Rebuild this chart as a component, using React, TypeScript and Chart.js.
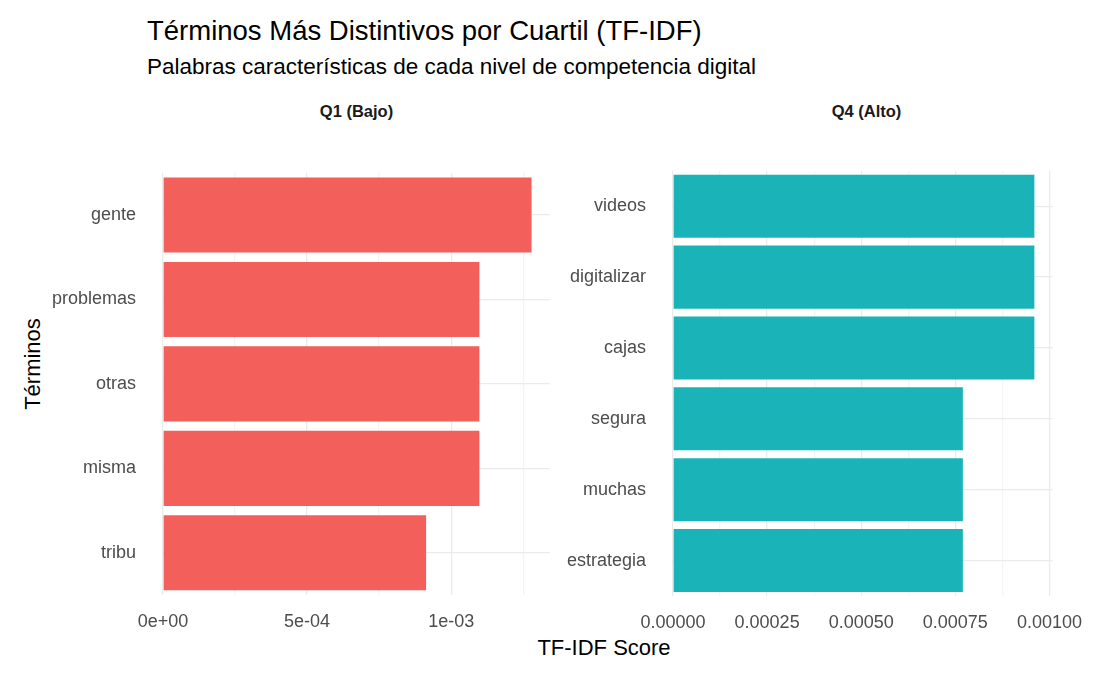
import React, { useEffect, useRef } from 'react';
import { Chart, registerables } from 'chart.js';

Chart.register(...registerables);

const q1Terms = ['gente', 'problemas', 'otras', 'misma', 'tribu'];
const q1Scores = [0.001279, 0.001098, 0.001098, 0.001098, 0.000913];
const q1Ticks = ['0e+00', '5e-04', '1e-03'];

const q4Terms = ['videos', 'digitalizar', 'cajas', 'segura', 'muchas', 'estrategia'];
const q4Scores = [0.00096, 0.00096, 0.00096, 0.00077, 0.00077, 0.00077];
const q4Ticks = ['0.00000', '0.00025', '0.00050', '0.00075', '0.00100'];

const FONT = '"Liberation Sans", Arial, sans-serif';

interface PanelProps {
  terms: string[];
  scores: number[];
  tickLabels: string[];
  majorStep: number;
  max: number;
  color: string;
  yWidth: number;
  style: React.CSSProperties;
}

const Panel: React.FC<PanelProps> = ({ terms, scores, tickLabels, majorStep, max, color, yWidth, style }) => {
  const canvasRef = useRef<HTMLCanvasElement>(null);

  useEffect(() => {
    if (!canvasRef.current) return;
    const chart = new Chart(canvasRef.current, {
      type: 'bar',
      data: {
        labels: terms,
        datasets: [{ data: scores, backgroundColor: color, barPercentage: 0.89, categoryPercentage: 1 }]
      },
      options: {
        indexAxis: 'y',
        responsive: false,
        animation: false,
        layout: { padding: { top: 0, right: 4, bottom: 0, left: 0 } },
        plugins: { legend: { display: false }, tooltip: { enabled: false } },
        scales: {
          x: {
            min: 0,
            max,
            border: { display: false },
            grid: {
              color: (c: any) => {
                const v = c.tick ? c.tick.value : 0;
                const r = Math.abs(v / majorStep - Math.round(v / majorStep));
                return r < 1e-6 ? '#EBEBEB' : '#F4F4F4';
              },
              lineWidth: 1.3,
              drawTicks: false
            },
            afterBuildTicks: (axis: any) => {
              const ticks = [];
              for (let v = 0; v <= max + 1e-12; v += majorStep / 2) ticks.push({ value: v });
              axis.ticks = ticks;
            },
            afterFit: (axis: any) => { axis.height = 50; },
            ticks: {
              autoSkip: false,
              maxRotation: 0,
              padding: 16,
              color: '#4D4D4D',
              font: { family: FONT, size: 18 },
              callback: (v: any) => {
                const i = Math.round(Number(v) / majorStep);
                const r = Math.abs(Number(v) / majorStep - i);
                return r < 1e-6 ? tickLabels[i] ?? '' : '';
              }
            }
          },
          y: {
            border: { display: false },
            grid: { color: '#EBEBEB', lineWidth: 1.3, offset: false, drawTicks: false },
            afterFit: (axis: any) => { axis.width = yWidth; },
            ticks: { padding: 27, color: '#4D4D4D', font: { family: FONT, size: 18 } }
          }
        }
      }
    });
    return () => chart.destroy();
  }, []);

  return <canvas ref={canvasRef} width={style.width as number} height={style.height as number} style={{ position: 'absolute', ...style }} />;
};

const text = (s: React.CSSProperties): React.CSSProperties => ({ position: 'absolute', fontFamily: FONT, color: '#000', whiteSpace: 'nowrap', ...s });

export default function App() {
  return (
    <div style={{ position: 'fixed', left: 0, top: 0, width: 1102, height: 680, background: '#fff' }}>
      <div style={text({ left: 147, top: 15, fontSize: 27.5 })}>Términos Más Distintivos por Cuartil (TF-IDF)</div>
      <div style={text({ left: 147, top: 54, fontSize: 22.5 })}>Palabras características de cada nivel de competencia digital</div>
      <div style={text({ left: 163, width: 387, top: 102, fontSize: 16.5, fontWeight: 'bold', textAlign: 'center', color: '#1A1A1A' })}>Q1 (Bajo)</div>
      <div style={text({ left: 673, width: 387, top: 102, fontSize: 16.5, fontWeight: 'bold', textAlign: 'center', color: '#1A1A1A' })}>Q4 (Alto)</div>
      <div style={text({ left: 33, top: 364, fontSize: 22, transform: 'translate(-50%, -50%) rotate(-90deg)' })}>Términos</div>
      <div style={text({ left: 604, top: 648, fontSize: 22, transform: 'translate(-50%, -50%)' })}>TF-IDF Score</div>
      <Panel terms={q1Terms} scores={q1Scores} tickLabels={q1Ticks} majorStep={0.0005} max={0.001343}
        color="#F35F5B" yWidth={133} style={{ left: 30, top: 135, width: 524, height: 510 }} />
      <Panel terms={q4Terms} scores={q4Scores} tickLabels={q4Ticks} majorStep={0.00025} max={0.001008}
        color="#1AB4B8" yWidth={118} style={{ left: 555, top: 133, width: 543, height: 513 }} />
    </div>
  );
}
